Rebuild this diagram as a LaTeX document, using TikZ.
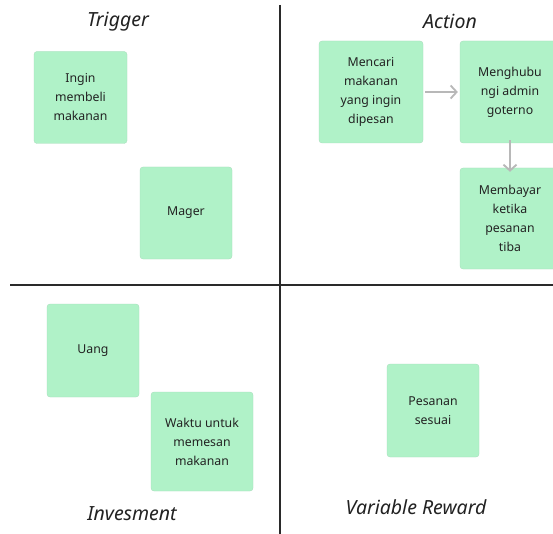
\documentclass[tikz,border=0pt]{standalone}
\usepackage{fontspec}
\setmainfont{Noto Sans}
\usetikzlibrary{arrows.meta}
\definecolor{cardgreen}{HTML}{B0F2C8}
\definecolor{cardtext}{HTML}{222222}
\definecolor{axisline}{HTML}{2A2A2A}
\definecolor{arrowgray}{HTML}{B8B8B8}
\tikzset{
  card/.style={rectangle, fill=cardgreen, draw=cardgreen!80!gray, line width=0.3pt, rounded corners=3pt, align=center, text=cardtext, font=\fontsize{12.3}{19}\selectfont, inner sep=0pt},
  title/.style={font=\fontsize{19.5}{22}\selectfont\itshape, text=cardtext},
  axis/.style={draw=axisline, line width=1.8pt},
  flow/.style={draw=arrowgray, line width=1.8pt, -{Straight Barb[length=6pt,width=13pt]}}
}
\begin{document}
\begin{tikzpicture}[x=1pt,y=-1pt]
\useasboundingbox (0,0) rectangle (553,534);
\clip (0,0) rectangle (553,534);
\fill[white] (0,0) rectangle (553,534);
% axes
\coordinate (vtop) at (280,5);
\coordinate (vbot) at (280,534);
\coordinate (hleft) at (10,285);
\coordinate (hright) at (553,285);
\draw[axis] (vtop) -- (vbot);
\draw[axis] (hleft) -- (hright);
% titles
\node[title] (ttrigger) at (118,21.5) {Trigger};
\node[title] (taction) at (450,21.5) {Action};
\node[title] (tinvest) at (132,514) {Invesment};
\node[title] (treward) at (416,507.5) {Variable Reward};
% cards
\node[card, minimum width=93pt, minimum height=92pt] (ingin) at (80.5,97.5) {Ingin\\membeli\\makanan};
\node[card, minimum width=92pt, minimum height=92pt] (mager) at (186,213) {\raisebox{-2pt}{Mager}};
\node[card, minimum width=104pt, minimum height=102pt] (mencari) at (371,92) {Mencari\\makanan\\yang ingin\\dipesan};
\node[card, minimum width=100pt, minimum height=102pt] (menghub) at (510,92) {Menghubu\\ngi admin\\goterno};
\node[card, minimum width=100pt, minimum height=101pt] (membayar) at (510,218.5) {Membayar\\ketika\\pesanan\\tiba};
\node[card, minimum width=92pt, minimum height=93pt] (uang) at (93,350.5) {Uang};
\node[card, minimum width=102pt, minimum height=99pt] (waktu) at (202,441.5) {Waktu untuk\\memesan\\makanan};
\node[card, minimum width=92pt, minimum height=93pt] (pesanan) at (433,410.5) {Pesanan\\sesuai};
% arrows
\draw[flow] ([xshift=2pt]mencari.east) -- ([xshift=-2pt]menghub.west);
\draw[flow] ([yshift=3pt]menghub.south) -- ([yshift=-4pt]membayar.north);
\end{tikzpicture}
\end{document}
